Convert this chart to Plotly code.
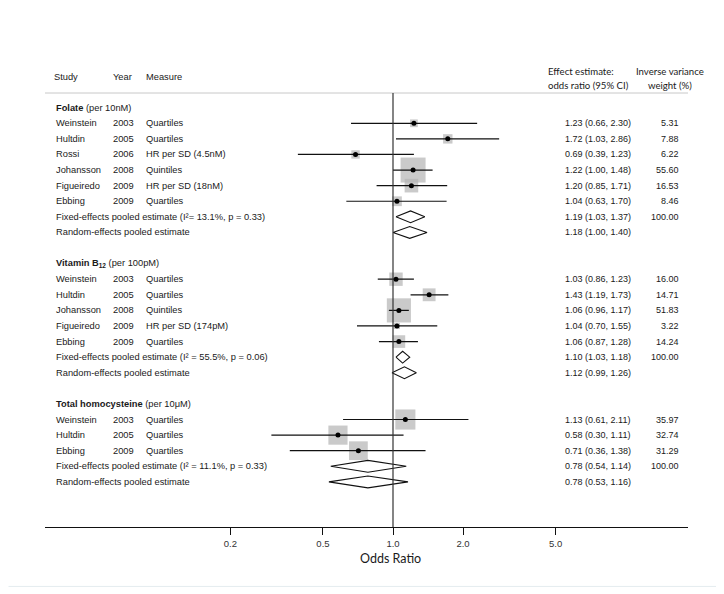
import math
import plotly.graph_objects as go

# ---------------- data ----------------
folate_study = ["Weinstein", "Hultdin", "Rossi", "Johansson", "Figueiredo", "Ebbing"]
folate_year = [2003, 2005, 2006, 2008, 2009, 2009]
folate_measure = ["Quartiles", "Quartiles", "HR per SD (4.5nM)", "Quintiles", "HR per SD (18nM)", "Quartiles"]
folate_or = [1.23, 1.72, 0.69, 1.22, 1.20, 1.04]
folate_lo = [0.66, 1.03, 0.39, 1.00, 0.85, 0.63]
folate_hi = [2.30, 2.86, 1.23, 1.48, 1.71, 1.70]
folate_w = [5.31, 7.88, 6.22, 55.60, 16.53, 8.46]
folate_fixed = [1.19, 1.03, 1.37]
folate_random = [1.18, 1.00, 1.40]
folate_het = "(I²= 13.1%, p = 0.33)"

b12_study = ["Weinstein", "Hultdin", "Johansson", "Figueiredo", "Ebbing"]
b12_year = [2003, 2005, 2008, 2009, 2009]
b12_measure = ["Quartiles", "Quartiles", "Quintiles", "HR per SD (174pM)", "Quartiles"]
b12_or = [1.03, 1.43, 1.06, 1.04, 1.06]
b12_lo = [0.86, 1.19, 0.96, 0.70, 0.87]
b12_hi = [1.23, 1.73, 1.17, 1.55, 1.28]
b12_w = [16.00, 14.71, 51.83, 3.22, 14.24]
b12_fixed = [1.10, 1.03, 1.18]
b12_random = [1.12, 0.99, 1.26]
b12_het = "(I² = 55.5%, p = 0.06)"

hcy_study = ["Weinstein", "Hultdin", "Ebbing"]
hcy_year = [2003, 2005, 2009]
hcy_measure = ["Quartiles", "Quartiles", "Quartiles"]
hcy_or = [1.13, 0.58, 0.71]
hcy_lo = [0.61, 0.30, 0.36]
hcy_hi = [2.11, 1.11, 1.38]
hcy_w = [35.97, 32.74, 31.29]
hcy_fixed = [0.78, 0.54, 1.14]
hcy_random = [0.78, 0.53, 1.16]
hcy_het = "(I² = 11.1%, p = 0.33)"

group_titles = ["<b>Folate</b> (per 10nM)",
                "<b>Vitamin B<sub>12</sub></b> (per 100pM)",
                "<b>Total homocysteine</b> (per 10μM)"]
pooled_weight = "100.00"
tick_vals = [0.2, 0.5, 1.0, 2.0, 5.0]
tick_text = ["0.2", "0.5", "1.0", "2.0", "5.0"]

groups = [
    dict(title=group_titles[0], study=folate_study, year=folate_year, measure=folate_measure,
         est=folate_or, lo=folate_lo, hi=folate_hi, w=folate_w,
         fixed=folate_fixed, random=folate_random, het=folate_het),
    dict(title=group_titles[1], study=b12_study, year=b12_year, measure=b12_measure,
         est=b12_or, lo=b12_lo, hi=b12_hi, w=b12_w,
         fixed=b12_fixed, random=b12_random, het=b12_het),
    dict(title=group_titles[2], study=hcy_study, year=hcy_year, measure=hcy_measure,
         est=hcy_or, lo=hcy_lo, hi=hcy_hi, w=hcy_w,
         fixed=hcy_fixed, random=hcy_random, het=hcy_het),
]

# ---------------- layout constants ----------------
# page body has an 8px margin; all positions below are given in window pixels
OFF = 8
W, H = 724, 594
PLOT_L, PLOT_R, PLOT_T, PLOT_B = 45, 688, 93, 527.5   # window pixels
L = PLOT_L - OFF
T = PLOT_T - OFF
R = W - (PLOT_R - OFF)
B = H - (PLOT_B - OFF)
PW, PH = PLOT_R - PLOT_L, PLOT_B - PLOT_T
ROW0_PX, ROW_PX = 107.7, 15.61
ONE_PX, DEC_PX = 393, 232.6


def px_x(px):
    return (px - PLOT_L) / PW


def px_y(py):
    return (PLOT_B - py) / PH


FONT = "Liberation Sans, Arial, sans-serif"
HFONT = "Lato, Open Sans, sans-serif"
TXT = "#1a1a1a"
FS = 9.3

ann = []


def text(x_px, row, s, anchor="left", size=FS, font=FONT):
    ann.append(dict(x=px_x(x_px), xref="paper", y=row, yref="y", text=s, showarrow=False,
                    xanchor=anchor, yanchor="middle", font=dict(family=font, size=size, color=TXT)))


ci_x, ci_y = [], []
sq_x, sq_y, sq_s = [], [], []
dia_x, dia_y = [], []
DH = 0.38

row = 0
for g in groups:
    text(54, row, g["title"])
    row += 1
    for i in range(len(g["study"])):
        text(54, row, g["study"][i])
        text(111, row, str(g["year"][i]))
        text(144, row, g["measure"][i])
        text(562.5, row, f"{g['est'][i]:.2f} ({g['lo'][i]:.2f}, {g['hi'][i]:.2f})", size=9)
        text(681, row, f"{g['w'][i]:.2f}", anchor="right", size=9)
        ci_x += [g["lo"][i], g["hi"][i], None]
        ci_y += [row, row, None]
        sq_x.append(g["est"][i])
        sq_y.append(row)
        sq_s.append(3.35 * math.sqrt(g["w"][i]))
        row += 1
    for kind in ("fixed", "random"):
        e, lo, hi = g[kind]
        if kind == "fixed":
            text(54, row, "Fixed-effects pooled estimate " + g["het"])
            text(681, row, pooled_weight, anchor="right", size=9)
        else:
            text(54, row, "Random-effects pooled estimate")
        text(562.5, row, f"{e:.2f} ({lo:.2f}, {hi:.2f})", size=9)
        dia_x += [lo, e, hi, e, lo, None]
        dia_y += [row, row - DH, row, row + DH, row, None]
        row += 1
    row += 1

n_rows_bottom = (PLOT_B - ROW0_PX) / ROW_PX
n_rows_top = (PLOT_T - ROW0_PX) / ROW_PX

fig = go.Figure()
fig.add_trace(go.Scatter(x=sq_x, y=sq_y, mode="markers", hoverinfo="skip",
                         marker=dict(symbol="square", size=sq_s, color="#b3b3b3", line=dict(width=0))))
fig.add_trace(go.Scatter(x=ci_x, y=ci_y, mode="lines", hoverinfo="skip",
                         line=dict(color="#111111", width=1.2)))
fig.add_trace(go.Scatter(x=sq_x, y=sq_y, mode="markers", hoverinfo="skip",
                         marker=dict(symbol="circle", size=5, color="#000000")))
fig.add_trace(go.Scatter(x=dia_x, y=dia_y, mode="lines", fill="toself", fillcolor="white",
                         hoverinfo="skip", line=dict(color="#111111", width=1.1)))

# headers
hdr = dict(showarrow=False, font=dict(family=FONT, size=FS, color=TXT), yanchor="middle", xref="paper", yref="paper")
ann.append(dict(hdr, x=px_x(52), y=px_y(76.7), text="Study", xanchor="left"))
ann.append(dict(hdr, x=px_x(111), y=px_y(76.7), text="Year", xanchor="left"))
ann.append(dict(hdr, x=px_x(144), y=px_y(76.7), text="Measure", xanchor="left"))
hdr2 = dict(hdr, font=dict(family=HFONT, size=9.6, color=TXT))
ann.append(dict(hdr2, x=px_x(546), y=px_y(71.7), text="Effect estimate:", xanchor="left"))
ann.append(dict(hdr2, x=px_x(546), y=px_y(85), text="odds ratio (95% CI)", xanchor="left"))
ann.append(dict(hdr2, x=px_x(669.5), y=px_y(71.7), text="Inverse variance", xanchor="center"))
ann.append(dict(hdr2, x=px_x(669.5), y=px_y(85), text="weight (%)", xanchor="center"))
ann.append(dict(hdr, x=px_x(390), y=px_y(559), text="Odds Ratio", xanchor="center",
                font=dict(family=HFONT, size=12.5, color=TXT)))

shapes = [
    dict(type="line", xref="paper", yref="paper", x0=0, x1=1, y0=1, y1=1,
         line=dict(color="#c8c8c8", width=1)),
    dict(type="line", xref="x", yref="paper", x0=1, x1=1, y0=0, y1=1,
         line=dict(color="#333333", width=1.2)),
    dict(type="line", xref="paper", yref="paper", x0=px_x(8.5), x1=px_x(717.5),
         y0=px_y(587), y1=px_y(587), line=dict(color="#e4ecef", width=1), layer="below"),
    dict(type="line", xref="paper", yref="paper", x0=px_x(717.5), x1=px_x(717.5),
         y0=px_y(587), y1=px_y(8.5), line=dict(color="#e4ecef", width=1), layer="below"),
]

fig.update_layout(
    width=W, height=H, autosize=False,
    margin=dict(l=L, r=R, t=T, b=B),
    paper_bgcolor="white", plot_bgcolor="white",
    showlegend=False,
    annotations=ann, shapes=shapes,
    xaxis=dict(type="log", range=[-(ONE_PX - PLOT_L) / DEC_PX, (PLOT_R - ONE_PX) / DEC_PX],
               tickvals=tick_vals, ticktext=tick_text, ticks="outside", ticklen=7, tickwidth=1.2,
               tickcolor="#111111", showline=True, linecolor="#111111", linewidth=1.3,
               showgrid=False, zeroline=False, tickfont=dict(family=FONT, size=9.5, color="#333333")),
    yaxis=dict(range=[n_rows_bottom, n_rows_top], showgrid=False, zeroline=False,
               showticklabels=False, ticks="", showline=False),
)

fig.write_html("out.html")
